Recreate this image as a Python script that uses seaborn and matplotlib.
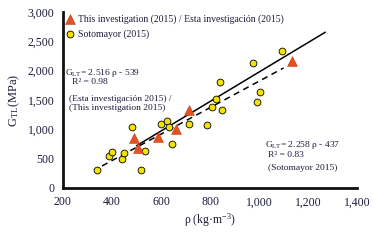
import matplotlib
matplotlib.use("Agg")
import matplotlib.pyplot as plt
import seaborn as sns
import numpy as np
import pandas as pd

# Data
this_rho = [490, 505, 590, 660, 715, 1135]
this_g = [860, 680, 875, 1010, 1330, 2160]
soto_rho = [340, 517, 389, 400, 441, 449, 533, 484, 599, 624, 634, 645, 714,
            789, 809, 824, 847, 842, 990, 1004, 975, 1093]
soto_g = [300, 300, 546, 608, 494, 591, 631, 1046, 1085, 1142, 1040, 756, 1097,
          1069, 1386, 1523, 1330, 1812, 1461, 1637, 2136, 2341]
fit_this = (2.516, -539, 500, 1270)
fit_soto = (2.258, -437, 360, 1100)
x_ticks = [200, 400, 600, 800, 1000, 1200, 1400]
y_ticks = [0, 500, 1000, 1500, 2000, 2500, 3000]

sns.set_theme(style="white")
plt.rcParams['font.family'] = ['Liberation Serif', 'DejaVu Serif']
plt.rcParams['mathtext.fontset'] = 'custom'
plt.rcParams['mathtext.rm'] = 'Liberation Serif'
plt.rcParams['mathtext.it'] = 'Liberation Serif'
navy = "#1c1c3c"

fig = plt.figure(figsize=(3.74, 2.41), dpi=100)
ax = fig.add_axes([0.168, 0.22, 0.787, 0.73])

df_this = pd.DataFrame({"rho": this_rho, "g": this_g})
df_soto = pd.DataFrame({"rho": soto_rho, "g": soto_g})

# fit lines
xs = np.array(fit_this[2:])
ax.plot(xs, fit_this[0] * xs + fit_this[1], color="black", lw=1.1, zorder=2)
xs2 = np.array(fit_soto[2:])
ax.plot(xs2, fit_soto[0] * xs2 + fit_soto[1], color="black", lw=1.1,
        ls=(0, (4, 3)), zorder=2)

sns.scatterplot(data=df_soto, x="rho", y="g", ax=ax, marker="o", s=24,
                color="#f2e400", edgecolor="black", linewidth=0.6, zorder=3,
                label="Sotomayor (2015)")
sns.scatterplot(data=df_this, x="rho", y="g", ax=ax, marker="^", s=50,
                color="#e8501e", edgecolor="#b83a14", linewidth=0.4, zorder=4,
                label="This investigation (2015) / Esta investigación (2015)")

ax.set_xlim(200, 1400)
ax.set_ylim(0, 3000)
ax.set_xticks(x_ticks)
ax.set_yticks(y_ticks)
ax.set_xticklabels([f"{v:,}" for v in x_ticks], fontsize=8.5, color=navy)
ax.set_yticklabels([f"{v:,}" for v in y_ticks], fontsize=8.5, color=navy)
ax.tick_params(axis="both", length=0, pad=6)
for s in ["top", "right"]:
    ax.spines[s].set_visible(False)
for s in ["left", "bottom"]:
    ax.spines[s].set_color("#111111")
    ax.spines[s].set_linewidth(2)

ax.set_xlabel("ρ (kg·m$^{\\mathregular{-3}}$)", fontsize=8.5, color=navy, labelpad=2)
ax.set_ylabel("G$_{\\mathregular{TL}}$(MPa)", fontsize=9, color=navy, labelpad=4)

handles, labels = ax.get_legend_handles_labels()
leg = ax.legend(handles[::-1], labels[::-1], loc="upper left", frameon=False,
                fontsize=7, handletextpad=0.3, borderaxespad=0.0,
                handlelength=1.0, labelspacing=0.55,
                bbox_to_anchor=(-0.005, 1.01))
for t in leg.get_texts():
    t.set_color(navy)

fs = 6.8
fig.text(65 / 374, 1 - 73 / 241, "G$_{\\mathregular{LT}}$= 2.516 ρ - 539", fontsize=fs,
         color=navy, va="center")
fig.text(72 / 374, 1 - 82 / 241, "R² = 0.98", fontsize=fs, color=navy, va="center")
fig.text(69 / 374, 1 - 99 / 241, "(Esta investigación 2015) /", fontsize=fs,
         color=navy, va="center")
fig.text(69 / 374, 1 - 108 / 241, "(This investigation 2015)", fontsize=fs,
         color=navy, va="center")
fig.text(265 / 374, 1 - 145 / 241, "G$_{\\mathregular{LT}}$= 2.258 ρ - 437", fontsize=fs,
         color=navy, va="center")
fig.text(268 / 374, 1 - 155 / 241, "R² = 0.83", fontsize=fs, color=navy, va="center")
fig.text(268 / 374, 1 - 168 / 241, "(Sotomayor 2015)", fontsize=fs, color=navy,
         va="center")

fig.savefig("out.png", dpi=100)
